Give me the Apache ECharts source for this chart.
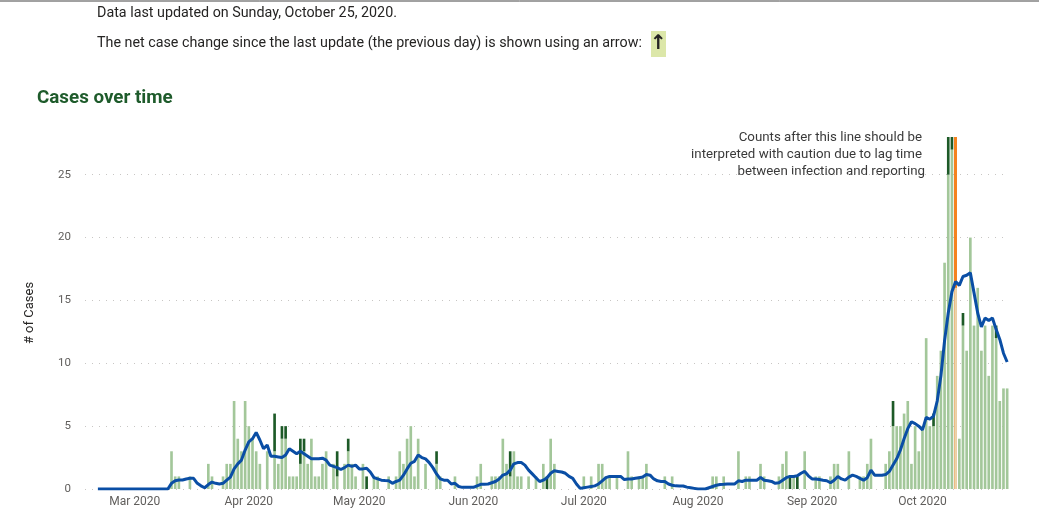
<!DOCTYPE html>
<html><head><meta charset="utf-8">
<script src="https://cdn.jsdelivr.net/npm/echarts@6/dist/echarts.min.js"></script>
<style>html,body{margin:0;padding:0;background:#fff;}#c{width:1039px;height:513px;}</style>
</head><body><div id="c"></div>
<script>
// ---- data (daily, first value = 2020-02-20) ----
const axisStart = '2020-02-17';
const dataStart = '2020-02-20';
const cautionDate = '2020-10-10';
// light green part of each daily bar
const reportedCases = [0,
  0,0,0,0,0,0,0,0,0,0,
  0,0,0,0,0,0,0,0,0,3,
  1,1,0,0,1,0,0,0,0,2,
  1,0,0,1,2,2,7,4,3,7,
  5,4,3,2,0,3,0,3,2,4,
  4,1,1,1,2,3,2,4,1,1,
  2,3,0,2,1,0,2,3,2,1,
  0,2,0,0,1,1,0,0,1,0,
  1,3,2,4,5,1,4,0,2,0,
  0,2,1,0,0,0,1,0,0,0,
  0,0,1,2,0,0,1,1,1,4,
  2,1,3,1,1,0,1,0,1,0,
  2,0,4,2,0,0,0,0,0,0,
  0,1,0,1,0,2,2,1,1,0,
  1,0,0,3,1,0,1,1,2,0,
  0,0,0,1,0,1,0,0,0,0,
  0,0,0,0,0,0,1,1,0,1,
  0,0,0,3,0,1,1,0,0,2,
  1,0,0,0,1,2,3,0,1,0,
  0,3,0,0,1,1,0,0,1,2,
  2,0,0,3,0,0,1,1,2,4,
  0,0,0,2,3,5,5,5,6,7,
  2,5,3,5,12,5,5,9,11,18,
  25,27,16,4,13,11,20,13,16,11,
  13,9,13,12,7,8,8];
// dark green part (net change since previous update)
const newCases = [0,
  0,0,0,0,0,0,0,0,0,0,
  0,0,0,0,0,0,0,0,0,0,
  0,0,0,0,0,0,0,0,0,0,
  0,0,0,0,0,0,0,0,0,0,
  0,0,0,0,0,0,0,3,0,1,
  1,0,0,0,2,1,0,0,0,0,
  0,0,0,0,2,0,0,1,0,0,
  0,0,1,0,0,0,0,0,0,0,
  0,0,0,0,0,0,0,0,0,0,
  0,1,0,0,0,0,0,0,0,0,
  0,0,0,0,0,0,0,0,0,0,
  0,2,0,0,0,0,0,0,0,0,
  0,1,0,0,0,0,0,0,0,0,
  0,0,0,0,0,0,0,0,0,0,
  0,0,0,0,0,0,0,0,0,0,
  0,0,0,0,0,0,0,0,0,0,
  0,0,0,0,0,0,0,0,0,0,
  0,0,0,0,0,0,0,0,0,0,
  0,0,0,0,0,0,0,1,0,1,
  0,0,0,0,0,0,0,0,0,0,
  0,0,0,0,0,0,0,0,0,0,
  0,0,0,0,0,2,0,0,0,0,
  0,0,0,0,0,0,1,0,0,0,
  5,3,0,0,1,0,0,0,0,0,
  0,0,0,1,0,0,0];
// rolling average line
const averageCases = [0,
  0,0,0,0,0,0,0,0,0,0,
  0,0,0,0,0,0,0,0,0,0.45,
  0.65,0.72,0.72,0.8,0.85,0.85,0.45,0.25,0.1,0.35,
  0.55,0.45,0.4,0.45,0.7,0.95,1.6,2.0,2.3,3.1,
  3.75,4.0,4.5,3.9,3.2,3.5,2.6,2.6,2.55,2.5,
  2.7,3.2,3.0,2.8,3.0,2.8,2.6,2.4,2.4,2.4,
  2.45,2.3,1.9,1.8,1.7,1.55,1.7,1.9,1.8,1.9,
  1.6,1.6,1.65,1.35,0.9,0.8,0.7,0.67,0.65,0.45,
  0.6,0.7,1.1,1.6,2.05,2.2,2.7,2.5,2.4,2.1,
  1.7,1.2,0.8,0.7,0.7,0.4,0.45,0.2,0.13,0.13,
  0.13,0.13,0.25,0.37,0.37,0.4,0.5,0.6,0.8,1.1,
  1.2,1.5,2.0,2.1,2.1,1.9,1.5,1.2,0.9,0.6,
  0.7,0.9,1.25,1.45,1.4,1.35,1.25,1.0,0.85,0.4,
  0.05,0.1,0.15,0.2,0.25,0.4,0.65,0.9,1.0,1.0,
  1.0,1.0,0.75,0.8,0.8,0.85,0.9,0.95,1.15,1.1,
  0.8,0.65,0.6,0.6,0.4,0.3,0.25,0.24,0.24,0.15,
  0.1,0.05,0,0,0,0.1,0.2,0.3,0.35,0.37,
  0.4,0.4,0.4,0.65,0.6,0.7,0.7,0.7,0.7,0.93,
  0.7,0.66,0.6,0.45,0.5,0.7,0.9,1.0,1.0,1.05,
  1.25,1.4,1.05,0.8,0.8,0.75,0.7,0.66,0.5,0.7,
  1.0,0.8,0.7,0.95,1.1,1.0,0.85,0.7,0.9,1.5,
  1.1,1.1,1.1,1.15,1.4,1.9,2.4,3.1,4.0,4.8,
  5.35,5.2,5.0,4.7,5.7,5.55,5.8,7.0,9.0,11.8,
  14.0,15.7,16.5,16.2,16.9,17.0,17.2,15.6,14.0,12.9,
  13.6,13.4,13.6,12.7,11.9,10.8,10.1];
const yTickValues = [0, 5, 10, 15, 20, 25];
const yMax = 28;
const monthNames = ['Jan','Feb','Mar','Apr','May','Jun','Jul','Aug','Sep','Oct','Nov','Dec'];
const headerLine1 = 'Data last updated on Sunday, October 25, 2020.';
const headerLine2 = 'The net case change since the last update (the previous day) is shown using an arrow:';
const chartTitle = 'Cases over time';
const yAxisTitle = '# of Cases';
const noteLines = ['Counts after this line should be', 'interpreted with caution due to lag time', 'between infection and reporting'];

// ---- build categories ----
function iso(d){ return d.toISOString().slice(0,10); }
const dates = [];
{
  const d = new Date(axisStart + 'T00:00:00Z');
  const n = reportedCases.length + Math.round((new Date(dataStart+'T00:00:00Z') - d)/86400000);
  for (let k = 0; k < n; k++) { dates.push(iso(d)); d.setUTCDate(d.getUTCDate()+1); }
}
const pad = dates.indexOf(dataStart);
const padArr = arr => Array(pad).fill(null).concat(arr);
const cautionIdx = dates.indexOf(cautionDate);

const FONT = 'Roboto, "Noto Sans", sans-serif';
const light = '#a3c79a', dark = '#1d5a27', blue = '#0a4ea5', orange = '#f5821f';

const chart = echarts.init(document.getElementById('c'), null, {renderer:'canvas'});
chart.setOption({
  animation: false,
  textStyle: {fontFamily: FONT},
  grid: {left: 85, right: 30, top: 137, bottom: 24, containLabel: false, outerBoundsMode: 'none'},
  xAxis: {
    type: 'category', data: dates, boundaryGap: true,
    axisLine: {show: false}, axisTick: {show: false},
    axisLabel: {
      interval: (idx, val) => val.slice(8) === '01',
      formatter: val => monthNames[+val.slice(5,7)-1] + ' ' + val.slice(0,4),
      color: '#605e5c', fontSize: 12, margin: 7, fontFamily: FONT
    },
    splitLine: {show: false}
  },
  yAxis: {
    type: 'value', min: 0, max: yMax, interval: 5,
    axisLine: {show: false}, axisTick: {show: false},
    axisLabel: {color: '#605e5c', fontSize: 11.5, margin: 14, showMaxLabel: false,
      formatter: v => yTickValues.indexOf(v) >= 0 ? String(v) : ''},
    splitLine: {show: true, lineStyle: {color: yTickValues.map(() => '#c8c6c4').concat(['rgba(0,0,0,0)']), type: [1, 6], width: 1}}
  },
  series: [
    {
      name: 'caution', type: 'line', data: [], z: 1, silent: true,
      markLine: {
        z: 1, symbol: 'none', silent: true, label: {show: false},
        lineStyle: {color: orange, width: 3, type: 'solid'},
        data: [{xAxis: cautionDate}]
      }
    },
    {
      name: 'Cases', type: 'bar', stack: 'c', barWidth: '72%', z: 2,
      data: padArr(reportedCases).map((v, k) => k === cautionIdx ? {value: v, itemStyle: {color: '#ead3ad'}} : v),
      itemStyle: {color: light}
    },
    {
      name: 'New', type: 'bar', stack: 'c', barWidth: '72%', z: 2,
      data: padArr(newCases),
      itemStyle: {color: dark}
    },
    {
      name: 'Average', type: 'line', data: padArr(averageCases), z: 3,
      symbol: 'none', smooth: false,
      lineStyle: {color: blue, width: 3}, itemStyle: {color: blue}
    }
  ],
  graphic: [
    {type: 'line', shape: {x1: 0, y1: 1, x2: 1039, y2: 1}, style: {stroke: '#444', lineWidth: 1}},
    {type: 'text', x: 97, y: 13, style: {text: headerLine1, fill: '#252423', font: '14.3px ' + FONT, textVerticalAlign: 'middle'}},
    {type: 'text', x: 97, y: 43, style: {text: headerLine2, fill: '#252423', font: '14.3px ' + FONT, textVerticalAlign: 'middle'}},
    {type: 'rect', shape: {x: 651, y: 31, width: 15, height: 26}, style: {fill: '#dce7a9'}},
    {type: 'text', x: 658.5, y: 44, style: {text: '\u2191', fill: '#252423', font: 'bold 20px "DejaVu Sans", sans-serif', textAlign: 'center', textVerticalAlign: 'middle'}},
    {type: 'text', x: 37, y: 98, style: {text: chartTitle, fill: '#1e5b2b', font: 'bold 18.8px ' + FONT, textVerticalAlign: 'middle'}},
    {type: 'text', x: 30, y: 313, rotation: Math.PI / 2, style: {text: yAxisTitle, fill: '#252423', font: '13px ' + FONT, textAlign: 'center', textVerticalAlign: 'middle'}},
    {type: 'text', x: 922, y: 138, style: {text: noteLines[0], fill: '#3a3a3a', font: '13.3px ' + FONT, textAlign: 'right', textVerticalAlign: 'middle'}},
    {type: 'text', x: 922, y: 155, style: {text: noteLines[1], fill: '#3a3a3a', font: '13.3px ' + FONT, textAlign: 'right', textVerticalAlign: 'middle'}},
    {type: 'text', x: 925, y: 172, style: {text: noteLines[2], fill: '#3a3a3a', font: '13.3px ' + FONT, textAlign: 'right', textVerticalAlign: 'middle'}}
  ]
});
</script></body></html>
